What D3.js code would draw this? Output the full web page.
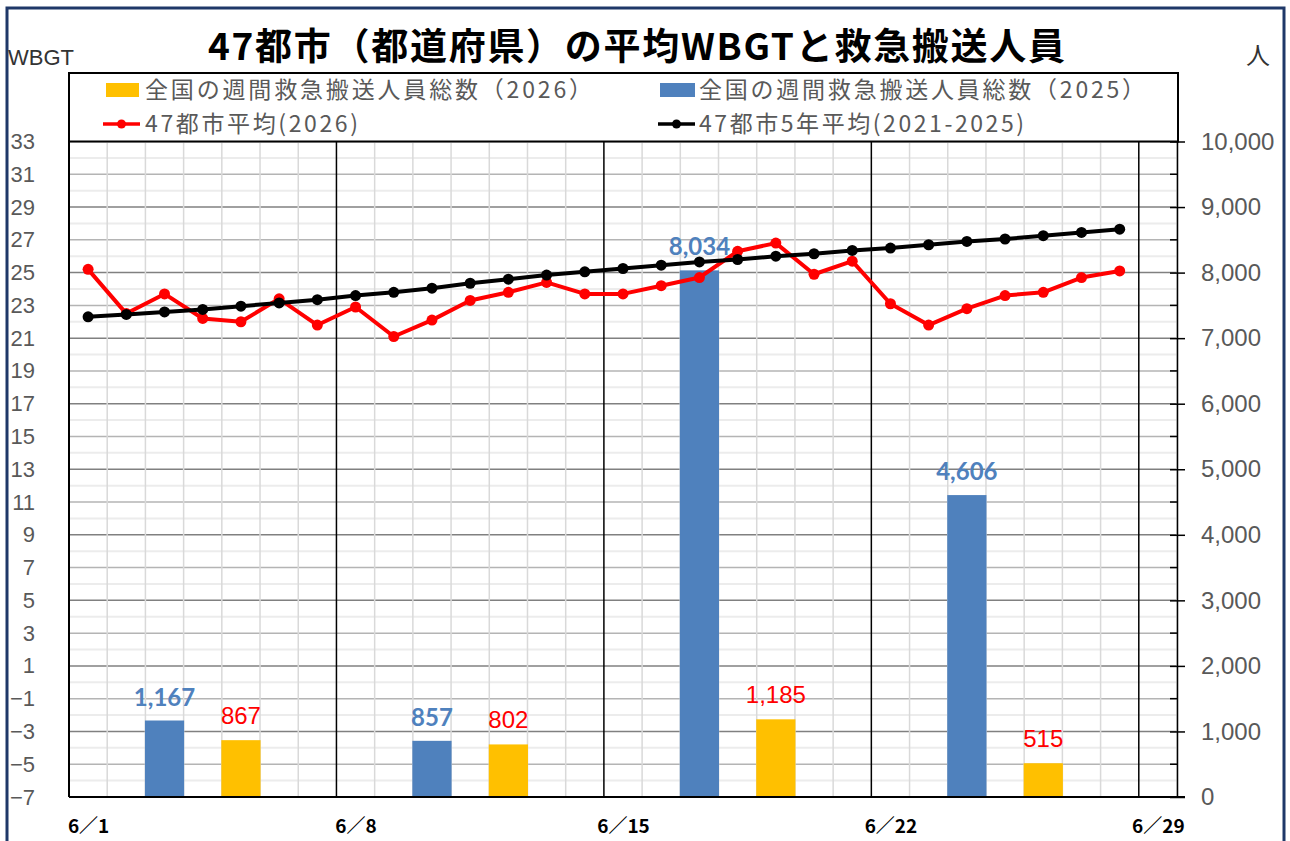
<!DOCTYPE html>
<html>
<head>
<meta charset="utf-8">
<script src="https://cdn.jsdelivr.net/npm/d3@7"></script>
<style>
  body { margin: 0; background: #fff; }
  text { font-family: "Noto Sans CJK JP", "Noto Sans", sans-serif; }
</style>
</head>
<body>
<div id="chart"></div>
<script>
// day of June for each line point
var lineDays = [1, 2, 3, 4, 5, 6, 7, 8, 9, 10, 11, 12, 13, 14,
                15, 16, 17, 18, 19, 20, 21, 22, 23, 24, 25, 26, 27, 28];
var wbgt2026 = [25.2, 22.5, 23.7, 22.2, 22.0, 23.4, 21.8, 22.9, 21.1, 22.1, 23.3, 23.8, 24.4, 23.7,
                23.7, 24.2, 24.7, 26.3, 26.8, 24.9, 25.7, 23.1, 21.8, 22.8, 23.6, 23.8, 24.7, 25.1];
var wbgt5yr = [22.3, 22.45, 22.6, 22.75, 22.95, 23.15, 23.35, 23.6, 23.8, 24.05, 24.35, 24.6, 24.85, 25.05,
               25.25, 25.45, 25.65, 25.8, 26.0, 26.15, 26.35, 26.5, 26.7, 26.9, 27.05, 27.25, 27.45, 27.65];

// weekly totals of people transported
var barDays2025 = [3, 10, 17, 24];
var persons2025 = [1167, 857, 8034, 4606];
var barDays2026 = [5, 12, 19, 26];
var persons2026 = [867, 802, 1185, 515];

var leftTicks = [-7, -5, -3, -1, 1, 3, 5, 7, 9, 11, 13, 15, 17, 19, 21, 23, 25, 27, 29, 31, 33];
var rightTicks = [0, 1000, 2000, 3000, 4000, 5000, 6000, 7000, 8000, 9000, 10000];
var dateTicks = [1, 8, 15, 22, 29];

var legendNames = ["全国の週間救急搬送人員総数（2026）", "全国の週間救急搬送人員総数（2025）",
                   "47都市平均(2026)", "47都市5年平均(2021-2025)"];

function draw_chart() {
  "use strict";
  var width = 1290, height = 841;
  var left = 69, right = 1177, top = 141.5, bottom = 797;

  var svg = d3.select("#chart").append("svg")
      .attr("width", width)
      .attr("height", height);

  function day(d, h) { return new Date(Date.UTC(2026, 5, d, h || 0)); }

  var x = d3.scaleUtc().domain([day(1), day(30)]).range([left, right]);
  var yL = d3.scaleLinear().domain([-7, 33]).range([bottom, top]);
  var yR = d3.scaleLinear().domain([0, 10000]).range([bottom, top]);
  var dayW = x(day(2)) - x(day(1));

  // outer frame
  svg.append("rect")
      .attr("x", 7).attr("y", 8).attr("width", 1277).attr("height", 850)
      .attr("fill", "none").attr("stroke", "#1f3868").attr("stroke-width", 3);

  var grid = svg.append("g");

  // horizontal grid
  grid.selectAll(".hfaint").data(d3.range(250, 10000, 500))
    .enter().append("line")
      .attr("x1", left).attr("x2", right)
      .attr("y1", function(d) { return yR(d); }).attr("y2", function(d) { return yR(d); })
      .attr("stroke", "#ececec").attr("stroke-width", 2);
  grid.selectAll(".hmid").data(d3.range(500, 10000, 1000))
    .enter().append("line")
      .attr("x1", left).attr("x2", right)
      .attr("y1", function(d) { return yR(d); }).attr("y2", function(d) { return yR(d); })
      .attr("stroke", "#b4b4b4").attr("stroke-width", 1.5);
  grid.selectAll(".hmaj").data(d3.range(1000, 10001, 1000))
    .enter().append("line")
      .attr("x1", left).attr("x2", right)
      .attr("y1", function(d) { return yR(d); }).attr("y2", function(d) { return yR(d); })
      .attr("stroke", "#808080").attr("stroke-width", 1.5);

  // vertical grid, daily and weekly
  grid.selectAll(".vday").data(d3.range(2, 31).filter(function(d) { return (d - 1) % 7 !== 0; }))
    .enter().append("line")
      .attr("x1", function(d) { return x(day(d)); }).attr("x2", function(d) { return x(day(d)); })
      .attr("y1", top).attr("y2", bottom)
      .attr("stroke", "#d9d9d9").attr("stroke-width", 1.5);
  grid.selectAll(".vweek").data([8, 15, 22, 29])
    .enter().append("line")
      .attr("x1", function(d) { return x(day(d)); }).attr("x2", function(d) { return x(day(d)); })
      .attr("y1", top).attr("y2", bottom)
      .attr("stroke", "#000").attr("stroke-width", 1.5);

  // bars
  function bars(days, vals, color, cls) {
    svg.selectAll("." + cls).data(vals)
      .enter().append("rect")
        .attr("class", cls)
        .attr("x", function(d, i) { return x(day(days[i], 12)) - (dayW + 1) / 2; })
        .attr("y", function(d) { return yR(d); })
        .attr("width", dayW + 1)
        .attr("height", function(d) { return bottom - yR(d); })
        .attr("fill", color);
  }
  bars(barDays2025, persons2025, "#4f81bd", "b25");
  bars(barDays2026, persons2026, "#ffc000", "b26");

  // bar labels
  svg.selectAll(".l25").data(persons2025)
    .enter().append("text")
      .attr("x", function(d, i) { return x(day(barDays2025[i], 12)); })
      .attr("y", function(d) { return yR(d) - 15; })
      .attr("text-anchor", "middle")
      .style("font-family", "Lato, sans-serif")
      .style("font-weight", "bold")
      .style("font-size", "24px")
      .attr("fill", "#4f81bd")
      .text(d3.format(","));
  svg.selectAll(".l26").data(persons2026)
    .enter().append("text")
      .attr("x", function(d, i) { return x(day(barDays2026[i], 12)); })
      .attr("y", function(d) { return yR(d) - 16; })
      .attr("text-anchor", "middle")
      .style("font-family", "'Liberation Sans', sans-serif")
      .style("font-size", "24px")
      .attr("fill", "#ff0000")
      .text(d3.format(","));

  // plot border / axes lines
  svg.append("line").attr("x1", left).attr("x2", left).attr("y1", top).attr("y2", bottom)
      .attr("stroke", "#000").attr("stroke-width", 2);
  svg.append("line").attr("x1", left).attr("x2", right + 8).attr("y1", bottom).attr("y2", bottom)
      .attr("stroke", "#000").attr("stroke-width", 2);

  // lines
  function series(vals, color) {
    var line = d3.line()
        .x(function(d, i) { return x(day(lineDays[i], 12)); })
        .y(function(d) { return yL(d); });
    svg.append("path").datum(vals)
        .attr("d", line)
        .attr("fill", "none")
        .attr("stroke", color)
        .attr("stroke-width", 4)
        .attr("stroke-linejoin", "round");
    svg.append("g").selectAll("circle").data(vals)
      .enter().append("circle")
        .attr("cx", function(d, i) { return x(day(lineDays[i], 12)); })
        .attr("cy", function(d) { return yL(d); })
        .attr("r", 5.5)
        .attr("fill", color);
  }
  series(wbgt2026, "#ff0000");
  series(wbgt5yr, "#000000");

  // left axis
  var axL = svg.append("g")
      .attr("transform", "translate(" + left + ",0)")
      .call(d3.axisLeft(yL).tickValues(leftTicks).tickSize(0).tickPadding(34));
  axL.select(".domain").remove();
  axL.selectAll("text")
      .style("font-family", "'Liberation Sans', sans-serif")
      .style("font-size", "22px")
      .attr("fill", "#595959");

  // right axis
  var axR = svg.append("g")
      .attr("transform", "translate(" + right + ",0)")
      .call(d3.axisRight(yR).tickValues(rightTicks).tickSize(8).tickSizeOuter(0)
              .tickPadding(16).tickFormat(d3.format(",")));
  axR.select(".domain").attr("stroke", "#000").attr("stroke-width", 1.5);
  axR.selectAll(".tick line").attr("x1", -7).attr("stroke", "#000").attr("stroke-width", 1.5);
  axR.selectAll("text")
      .style("font-family", "'Liberation Sans', sans-serif")
      .style("font-size", "24px")
      .attr("fill", "#595959");
  svg.append("g").selectAll("line").data(d3.range(500, 10000, 1000))
    .enter().append("line")
      .attr("x1", right - 7).attr("x2", right)
      .attr("y1", function(d) { return yR(d); }).attr("y2", function(d) { return yR(d); })
      .attr("stroke", "#000").attr("stroke-width", 1.5);

  // bottom axis
  var axB = svg.append("g")
      .attr("transform", "translate(0," + bottom + ")")
      .call(d3.axisBottom(x).tickValues(dateTicks.map(function(d) { return day(d, 12); }))
              .tickSize(0).tickFormat(function(d) { return "6／" + d.getUTCDate(); }));
  axB.select(".domain").remove();
  axB.selectAll("text")
      .attr("y", 36).attr("dy", 0)
      .style("font-size", "19px")
      .style("font-weight", "bold")
      .attr("fill", "#000");

  // title and unit labels
  svg.append("text")
      .attr("x", 208).attr("y", 60)
      .attr("textLength", 857).attr("lengthAdjust", "spacing")
      .style("font-size", "37px").style("font-weight", "bold")
      .attr("fill", "#000")
      .text("47都市（都道府県）の平均WBGTと救急搬送人員");
  svg.append("text").attr("x", 8).attr("y", 65)
      .style("font-family", "'Liberation Sans', sans-serif").style("font-size", "22px")
      .attr("fill", "#333").text("WBGT");
  svg.append("text").attr("x", 1246).attr("y", 64)
      .style("font-size", "24px").attr("fill", "#333").text("人");

  // legend
  var lg = svg.append("g");
  lg.append("rect")
      .attr("x", left).attr("y", 73).attr("width", right + 1 - left).attr("height", top - 73)
      .attr("fill", "#fff").attr("stroke", "#000").attr("stroke-width", 2);
  lg.append("rect").attr("x", 106).attr("y", 83).attr("width", 33).attr("height", 14).attr("fill", "#ffc000");
  lg.append("rect").attr("x", 660).attr("y", 83).attr("width", 35).attr("height", 14).attr("fill", "#4f81bd");
  [[103, 140, "#ff0000"], [658, 695, "#000"]].forEach(function(m) {
    lg.append("line").attr("x1", m[0]).attr("x2", m[1]).attr("y1", 124).attr("y2", 124)
        .attr("stroke", m[2]).attr("stroke-width", 3.5);
    lg.append("circle").attr("cx", (m[0] + m[1]) / 2).attr("cy", 124).attr("r", 4.5).attr("fill", m[2]);
  });
  var legPos = [[145, 98, 447], [699, 98, 446], [145, 132, 213], [699, 132, 325]];
  lg.selectAll(".lt").data(legendNames)
    .enter().append("text")
      .attr("x", function(d, i) { return legPos[i][0]; })
      .attr("y", function(d, i) { return legPos[i][1]; })
      .attr("textLength", function(d, i) { return legPos[i][2]; })
      .attr("lengthAdjust", "spacing")
      .style("font-size", "23px")
      .attr("fill", "#595959")
      .text(function(d) { return d; });
}

draw_chart();
</script>
</body>
</html>
